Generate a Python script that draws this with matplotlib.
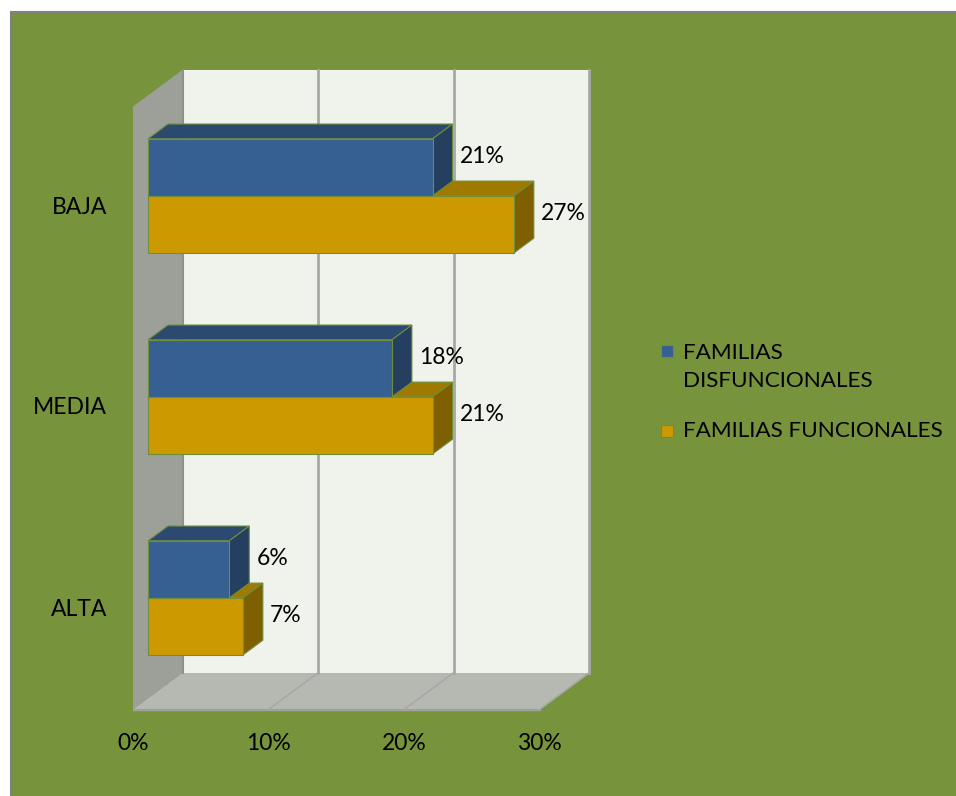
import matplotlib.pyplot as plt
from matplotlib.patches import Polygon, Rectangle

plt.rcParams['font.family'] = ['Lato', 'DejaVu Sans']

categorias = ['ALTA', 'MEDIA', 'BAJA']
disfuncionales = [6, 18, 21]
funcionales = [7, 21, 27]
ticks = [0, 10, 20, 30]
serie_labels = ['FAMILIAS\nDISFUNCIONALES', 'FAMILIAS FUNCIONALES']

W, H = 956, 796
fig = plt.figure(figsize=(W / 100, H / 100), dpi=100)
fig.patch.set_facecolor('white')

# green panel behind everything
fig.patches.append(Rectangle((10.5 / W, -0.1), 1.2, 1.1 - 12 / H, transform=fig.transFigure,
                             facecolor='#77933c', edgecolor='#808080', lw=1.5, zorder=-5))

ax = fig.add_axes([0, 0, 1, 1])
ax.set_zorder(1)
ax.set_facecolor('none')
ax.axis('off')
# x in percent, y in category units
ax.set_xlim(-133 / 13.55, (W - 133) / 13.55)
ax.set_ylim((609 - H) / 201, 609 / 201)

DX, DY = 3.69, 0.184      # depth direction of the 3D box
y0, y1 = -0.5, 2.5
vmax = 30
h = 0.284                 # bar thickness
z0, z1 = 0.3, 0.7         # bar depth range


def P(v, y, z):
    return (v + z * DX, y + z * DY)


def poly(pts, fc, ec='none', lw=0, zo=1):
    ax.add_patch(Polygon(pts, closed=True, facecolor=fc, edgecolor=ec, lw=lw, zorder=zo))


# walls and floor
poly([P(0, y0, 0), P(0, y0, 1), P(0, y1, 1), P(0, y1, 0)], '#9d9f99', zo=1)
poly([P(0, y0, 0), P(vmax, y0, 0), P(vmax, y0, 1), P(0, y0, 1)], '#b6b8b2', zo=1)
poly([P(0, y0, 1), P(vmax, y0, 1), P(vmax, y1, 1), P(0, y1, 1)], '#f0f2ec', zo=1)

grid_c = '#a8a8a6'
for t in ticks[1:]:
    xs, ys = zip(P(t, y0, 1), P(t, y1, 1))
    ax.plot(xs, ys, color=grid_c, lw=2, zorder=2)
    xs, ys = zip(P(t, y0, 0), P(t, y0, 1))
    ax.plot(xs, ys, color=grid_c, lw=1.2, zorder=2)
xs, ys = zip(P(0, y0, 1), P(0, y1, 1))
ax.plot(xs, ys, color='#8e908a', lw=1.5, zorder=2)
xs, ys = zip(P(0, y0, 0), P(vmax, y0, 0))
ax.plot(xs, ys, color='#a3a59f', lw=1, zorder=2)


def bar3d(v, yb, yt, front, top, side):
    ec = '#6f8d3a'
    poly([P(0, yt, z0), P(v, yt, z0), P(v, yt, z1), P(0, yt, z1)], top, ec, 0.8, 3)
    poly([P(v, yb, z0), P(v, yb, z1), P(v, yt, z1), P(v, yt, z0)], side, ec, 0.8, 3)
    poly([P(0, yb, z0), P(v, yb, z0), P(v, yt, z0), P(0, yt, z0)], front, ec, 0.8, 3)


fs = 16.5
for k in range(len(categorias) - 1, -1, -1):
    bar3d(funcionales[k], k - h, k, '#cc9900', '#9f7a00', '#7f6000')
    bar3d(disfuncionales[k], k, k + h, '#366092', '#2c4a70', '#243f60')
    for v, yc in [(disfuncionales[k], k + h / 2), (funcionales[k], k - h / 2)]:
        tx, ty = P(v + 0.9, yc, 0.6)
        ax.text(tx, ty, f'{v}%', ha='left', va='center', fontsize=fs, zorder=5)
    ax.text(-1.92, k, categorias[k], ha='right', va='center', fontsize=fs)

for t in ticks:
    ax.text(t, (609 - 743) / 201, f'{t}%', ha='center', va='center', fontsize=fs)


# legend
def fx(px):
    return px / W


def fy(py):
    return 1 - py / H


for (sq_y, txt_y), lab, col in zip([(351, 367), (431, 431)], serie_labels, ['#366092', '#cc9900']):
    fig.patches.append(Rectangle((fx(661), fy(sq_y + 6)), 12 / W, 12 / H, transform=fig.transFigure,
                                 facecolor=col, edgecolor='#6f8d3a', lw=0.8, zorder=3))
    fig.text(fx(683), fy(txt_y), lab, ha='left', va='center', fontsize=fs - 0.3, linespacing=1.55)

fig.savefig('out.png', dpi=100)
